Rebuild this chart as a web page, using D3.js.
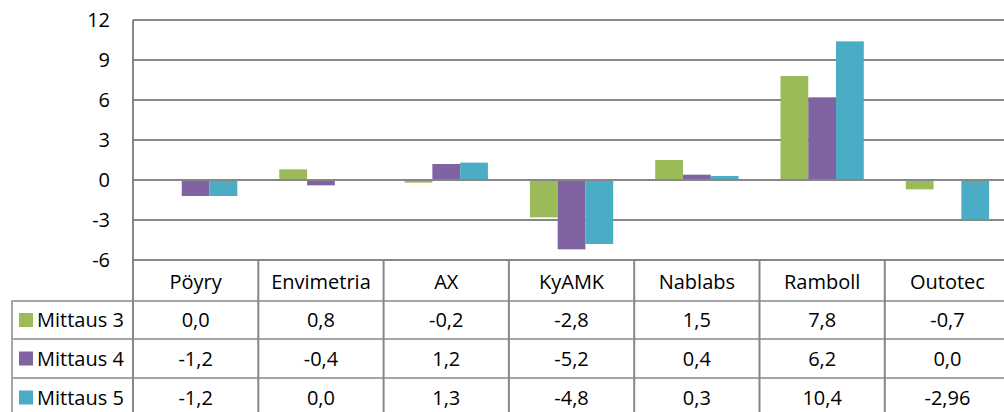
<!DOCTYPE html>
<html><head><meta charset="utf-8">
<script src="https://cdn.jsdelivr.net/npm/d3@7"></script>
<style>
html,body{margin:0;padding:0;background:#fff;overflow:hidden}
text{font-family:"Open Sans","Noto Sans",sans-serif;fill:#000}
</style></head><body>
<svg id="c" width="1004" height="412"></svg>
<script>
const categories = ["Pöyry","Envimetria","AX","KyAMK","Nablabs","Ramboll","Outotec"];
const seriesNames = ["Mittaus 3","Mittaus 4","Mittaus 5"];
const mittaus3 = [0.0, 0.8, -0.2, -2.8, 1.5, 7.8, -0.7];
const mittaus4 = [-1.2, -0.4, 1.2, -5.2, 0.4, 6.2, 0.0];
const mittaus5 = [-1.2, 0.0, 1.3, -4.8, 0.3, 10.4, -2.96];
const labels3 = ["0,0","0,8","-0,2","-2,8","1,5","7,8","-0,7"];
const labels4 = ["-1,2","-0,4","1,2","-5,2","0,4","6,2","0,0"];
const labels5 = ["-1,2","0,0","1,3","-4,8","0,3","10,4","-2,96"];
const yTicks = [-6,-3,0,3,6,9,12];
const colors = ["#9BBB59","#8064A2","#4BACC6"];

const series = [mittaus3, mittaus4, mittaus5];
const labels = [labels3, labels4, labels5];

const svg = d3.select("#c");
const pLeft = 133, band = 125.3, pTop = 20, pBottom = 260;
const x0 = d3.scaleBand().domain(categories).range([pLeft, pLeft + band*categories.length]).padding(0);
const x1 = d3.scaleBand().domain(seriesNames).range([21, band-21]).padding(0);
const y = d3.scaleLinear().domain([-6, 12]).range([pBottom, pTop]);
const pRight = 1004;
const gridC = "#878787", tableC = "#a6a6a6";
const fs = 20;

svg.append("g").selectAll("line").data(yTicks).join("line")
  .attr("x1", pLeft).attr("x2", pRight)
  .attr("y1", d => y(d)).attr("y2", d => y(d))
  .attr("stroke", gridC).attr("stroke-width", 2);

svg.append("g").selectAll("text").data(yTicks).join("text")
  .attr("x", 110).attr("y", d => y(d)).attr("dy", "0.35em")
  .attr("text-anchor", "end").attr("font-size", fs)
  .text(d => d);

const bars = svg.append("g");
series.forEach((vals, si) => {
  bars.selectAll(null).data(vals).join("rect")
    .attr("x", (d, i) => x0(categories[i]) + x1(seriesNames[si]))
    .attr("width", x1.bandwidth())
    .attr("y", d => y(Math.max(0, d)))
    .attr("height", d => Math.abs(y(d) - y(0)))
    .attr("fill", colors[si]);
});

svg.append("line").attr("x1", pLeft).attr("x2", pRight)
  .attr("y1", y(0)).attr("y2", y(0)).attr("stroke", gridC).attr("stroke-width", 2);

const rowY = [260, 301, 339, 378, 417];
const tbl = svg.append("g");
[1,2,3].forEach(r => {
  tbl.append("line").attr("x1", 12).attr("x2", pRight)
    .attr("y1", rowY[r]).attr("y2", rowY[r]).attr("stroke", tableC).attr("stroke-width", 2);
});
tbl.append("line").attr("x1", 12).attr("x2", 12).attr("y1", rowY[1]-1).attr("y2", 412)
  .attr("stroke", tableC).attr("stroke-width", 2);
const bounds = categories.map(c => x0(c)).concat([x0(categories[categories.length-1]) + band]);
tbl.selectAll(null).data(bounds).join("line")
  .attr("x1", d => d).attr("x2", d => d)
  .attr("y1", (d, i) => i === 0 ? pTop : pBottom).attr("y2", 412)
  .attr("stroke", gridC).attr("stroke-width", 2);

tbl.selectAll(null).data(categories).join("text")
  .attr("x", d => x0(d) + band/2).attr("y", (rowY[0]+rowY[1])/2 + 1).attr("dy", "0.35em")
  .attr("text-anchor", "middle").attr("font-size", fs).text(d => d);

series.forEach((vals, si) => {
  const cy = (rowY[si+1] + rowY[si+2]) / 2;
  tbl.append("rect").attr("x", 19).attr("y", cy - 7).attr("width", 14).attr("height", 14).attr("fill", colors[si]);
  tbl.append("text").attr("x", 37).attr("y", cy).attr("dy", "0.35em").attr("font-size", fs).text(seriesNames[si]);
  tbl.selectAll(null).data(labels[si]).join("text")
    .attr("x", (d, i) => x0(categories[i]) + band/2).attr("y", cy).attr("dy", "0.35em")
    .attr("text-anchor", "middle").attr("font-size", fs).text(d => d);
});
</script></body></html>
